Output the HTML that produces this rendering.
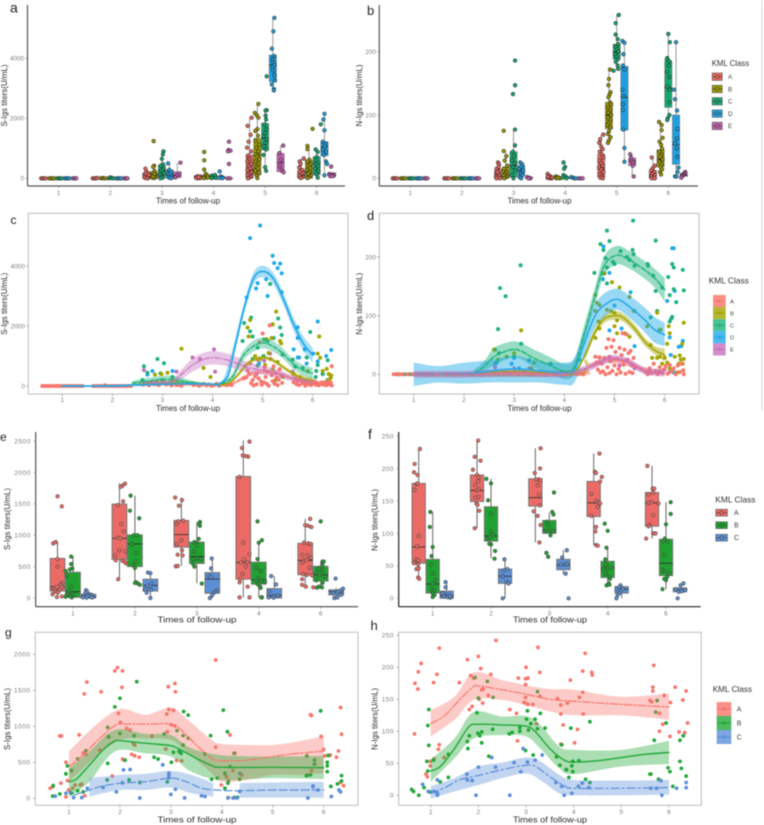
<!DOCTYPE html>
<html>
<head>
<meta charset="utf-8">
<title>KML class antibody titers</title>
<style>
html,body{margin:0;padding:0;background:#fff;}
body{width:764px;height:825px;overflow:hidden;}
svg{display:block;filter:blur(0.45px);}
text{font-family:"Liberation Sans",sans-serif;}
</style>
</head>
<body>
<svg id="figure" width="764" height="825" viewBox="0 0 764 825" xmlns="http://www.w3.org/2000/svg">
<rect width="764" height="825" fill="#fff"/>
<line x1="762" y1="0" x2="762" y2="410" stroke="#d4d4d4" stroke-width="1"/>
</svg>
<script>
// ---------- shared categories ----------
const sixTimes = ['1','2','3','4','5','6'];
const fiveTimes = ['1','2','3','4','6'];
const fiveClasses = ['A','B','C','D','E'];
const threeClasses = ['A','B','C'];
const sTicksAC = [0,2000,4000];
const nTicksBD = [0,100,200];
const sTicksE = [0,500,1000,1500,2000,2500];
const sTicksG = [0,500,1000,1500,2000];
const nTicksFH = [0,50,100,150,200,250];

// ---------- panel a : [low whisker, q1, median, q3, high whisker] per time ----------
const aBoxA = [[0,0,0,0,0],[0,0,0,0,0],[0,0,50,150,330],[0,0,20,80,100],[0,0,280,780,2020],[0,0,100,250,660]];
const aBoxB = [[0,0,0,0,0],[0,0,0,0,10],[0,0,70,210,420],[0,0,20,100,150],[0,110,780,1330,2480],[0,0,200,600,1080]];
const aBoxC = [[0,0,0,0,0],[0,0,0,0,20],[0,50,270,440,900],[0,0,40,100,110],[250,940,1330,1830,2280],[20,110,490,720,950]];
const aBoxD = [[0,0,0,0,0],[0,0,0,0,0],[0,0,100,280,500],[0,0,15,50,60],[2930,3220,3780,4110,5350],[100,750,1050,1220,2150]];
const aBoxE = [[0,0,0,0,0],[0,0,0,0,0],[0,20,100,220,520],[0,0,0,0,0],[190,220,520,830,1090],[60,80,100,190,190]];
const aPointsA = [[.66,0],[.69,0],[.72,0],[.75,0],[1.66,0],[1.69,0],[1.72,0],[1.75,10],[2.68,320],[2.7,220],[2.66,130],[2.72,80],[2.68,20],[2.74,170],[2.7,60],[2.66,30],[2.73,10],[2.69,150],[2.75,100],[2.71,0],[3.66,40],[3.69,70],[3.72,30],[3.75,60],[3.7,10],[3.74,5],[3.67,5],[3.71,45],[4.74,2020],[4.66,1750],[4.72,1450],[4.68,1220],[4.65,1020],[4.73,900],[4.67,760],[4.7,650],[4.66,560],[4.73,480],[4.68,400],[4.71,330],[4.66,270],[4.74,210],[4.69,160],[4.66,110],[4.72,60],[4.69,20],[4.67,0],[5.75,660],[5.67,560],[5.69,480],[5.66,360],[5.72,280],[5.67,220],[5.73,170],[5.69,120],[5.66,80],[5.72,40],[5.69,10]];
const aPointsB = [[.82,0],[.85,0],[.88,0],[.91,0],[1.82,0],[1.85,10],[1.88,0],[1.91,0],[2.84,1240],[2.85,420],[2.83,380],[2.86,240],[2.82,180],[2.87,120],[2.84,80],[2.88,40],[2.81,20],[2.85,10],[2.83,60],[2.86,150],[3.82,880],[3.82,600],[3.82,290],[3.85,150],[3.83,60],[3.88,100],[3.86,20],[3.81,10],[3.89,30],[4.87,2480],[4.8,2180],[4.84,2100],[4.87,2020],[4.85,1640],[4.81,1580],[4.86,1420],[4.82,1250],[4.89,1120],[4.83,1020],[4.87,900],[4.82,800],[4.85,720],[4.89,640],[4.81,560],[4.87,480],[4.83,380],[4.86,320],[4.81,260],[4.88,180],[4.84,90],[4.85,10],[5.92,1650],[5.82,1080],[5.82,970],[5.86,620],[5.82,560],[5.88,480],[5.84,420],[5.87,340],[5.81,280],[5.86,210],[5.83,150],[5.88,90],[5.85,40],[5.82,10]];
const aPointsC = [[.97,0],[1,0],[1.03,0],[1.06,0],[1.97,0],[2,30],[2.03,10],[2.06,0],[3.03,900],[3.02,800],[3,650],[3.02,470],[2.98,420],[3.02,300],[2.99,250],[3.03,180],[2.97,120],[3,60],[3.02,20],[2.97,0],[3.97,90],[4.01,50],[4.03,110],[3.99,20],[4.05,15],[3.96,10],[5.03,2270],[5.01,2260],[5.01,2090],[5.02,1960],[4.99,1800],[5.02,1640],[5.0,1500],[4.97,1400],[5.03,1300],[5.01,1180],[4.98,1060],[5.02,960],[4.97,780],[5,370],[5.02,250],[5.03,3400],[6.08,1800],[5.98,960],[6.02,880],[6,710],[5.97,620],[6.03,520],[5.99,470],[6.02,410],[5.97,320],[6.03,240],[5.99,140],[6.02,20]];
const aPointsD = [[1.12,0],[1.15,0],[1.18,0],[1.21,0],[2.12,0],[2.15,0],[2.18,0],[2.21,0],[3.12,500],[3.14,280],[3.18,220],[3.12,160],[3.16,120],[3.19,60],[3.14,20],[3.18,5],[4.12,230],[4.14,60],[4.18,30],[4.11,15],[4.17,5],[5.18,5350],[5.16,4900],[5.13,4320],[5.17,4080],[5.14,3960],[5.16,3860],[5.18,3780],[5.14,3720],[5.16,3600],[5.18,3440],[5.19,3260],[5.13,3130],[5.17,2980],[5.17,2930],[6.15,2150],[6.13,1960],[6.15,1600],[6.12,1220],[6.17,1140],[6.15,1050],[6.12,960],[6.18,880],[6.14,780],[6.18,560],[6.2,480],[6.15,100]];
const aPointsE = [[1.28,0],[1.31,0],[1.34,0],[2.27,0],[2.3,0],[2.33,0],[3.36,520],[3.3,100],[3.26,30],[3.34,150],[4.3,1220],[4.29,940],[4.33,920],[4.28,900],[4.3,480],[4.27,0],[4.32,0],[5.35,1090],[5.28,840],[5.31,620],[5.29,400],[5.33,250],[5.36,200],[6.28,390],[6.24,140],[6.27,120],[6.3,100],[6.33,90],[6.26,70],[6.31,70]];

// ---------- panel b ----------
const bBoxA = [[0,0,0,0,0],[0,0,0,0,0],[0,0,3,12,25],[0,0,0,2,7],[0,2,15,38,69],[0,0,5,12,33]];
const bBoxB = [[0,0,0,0,0],[0,0,0,0,0],[0,0,5,18,43],[0,0,0,1,3],[56,78,100,120,172],[5,18,30,45,89]];
const bBoxC = [[0,0,0,0,0],[0,0,0,0,0],[0,2,20,42,77],[0,0,1,3,5],[170,188,200,212,258],[92,112,143,185,228]];
const bBoxD = [[0,0,0,0,0],[0,0,0,0,0],[0,5,12,20,25],[0,0,0,1,2],[26,76,128,177,217],[3,22,53,100,215]];
const bBoxE = [[0,0,0,0,0],[0,0,0,0,0],[0,0,1,2,2],[0,0,0,0,0],[3,20,27,32,38],[1,3,5,8,10]];
const bPointsA = [[.66,0],[.69,0],[.72,0],[.75,0],[1.66,0],[1.69,0],[1.72,0],[1.75,0],[2.7,25],[2.72,22],[2.67,15],[2.74,12],[2.68,8],[2.72,5],[2.66,3],[2.7,2],[2.67,0],[2.74,0],[2.71,18],[2.69,10],[3.66,7],[3.69,4],[3.72,3],[3.66,1],[3.7,0],[3.74,0],[3.67,2],[3.75,1],[4.74,69],[4.68,62],[4.66,56],[4.7,50],[4.73,46],[4.67,42],[4.71,38],[4.74,33],[4.67,28],[4.7,24],[4.73,20],[4.66,17],[4.7,14],[4.74,10],[4.67,6],[4.72,3],[4.68,1],[4.73,0],[5.68,33],[5.74,20],[5.7,16],[5.67,13],[5.73,10],[5.69,7],[5.74,5],[5.67,3],[5.71,2],[5.68,0],[5.74,0]];
const bPointsB = [[.82,0],[.85,0],[.88,0],[.91,0],[1.82,0],[1.85,0],[1.88,0],[1.91,0],[2.81,75],[2.81,43],[2.86,35],[2.83,28],[2.88,20],[2.82,15],[2.87,10],[2.84,7],[2.81,5],[2.87,3],[2.84,1],[2.82,0],[3.82,3],[3.85,2],[3.88,1],[3.83,0],[3.9,0],[3.87,1],[4.87,172],[4.85,157],[4.84,147],[4.88,136],[4.86,132],[4.84,128],[4.87,120],[4.89,117],[4.83,112],[4.87,108],[4.84,104],[4.89,100],[4.83,96],[4.87,92],[4.85,88],[4.82,84],[4.88,80],[4.85,74],[4.83,70],[4.88,65],[4.85,60],[4.83,56],[5.82,89],[5.87,84],[5.87,76],[5.89,64],[5.83,58],[5.86,53],[5.88,47],[5.82,42],[5.87,38],[5.84,34],[5.89,30],[5.83,26],[5.87,22],[5.85,18],[5.88,14],[5.84,10],[5.86,6]];
const bPointsC = [[.97,0],[1,0],[1.03,0],[1.06,0],[1.97,0],[2,0],[2.03,0],[2.06,0],[3.03,186],[3.03,147],[2.99,133],[3.03,77],[3.03,52],[2.99,42],[3.01,35],[2.97,28],[3.02,24],[2.99,18],[3.03,12],[2.97,5],[3,0],[3.97,25],[4,18],[3.98,15],[3.97,5],[4.01,3],[3.96,1],[4.03,0],[5.04,258],[4.98,245],[4.98,227],[5.02,220],[5.03,212],[4.98,208],[5.01,204],[5.03,200],[4.97,196],[5,192],[5.02,188],[4.98,184],[5.02,178],[5.03,173],[4.94,170],[6,228],[6.03,215],[5.98,190],[5.97,188],[6.02,185],[6.01,178],[5.98,168],[6.02,160],[5.98,145],[6.02,140],[6.02,120],[6.02,100],[5.99,95],[5.98,92]];
const bPointsD = [[1.12,0],[1.15,0],[1.18,0],[1.21,0],[2.12,0],[2.15,0],[2.18,0],[2.21,0],[3.13,25],[3.17,22],[3.15,18],[3.11,15],[3.18,12],[3.14,8],[3.17,5],[3.12,2],[3.15,0],[4.12,2],[4.15,1],[4.18,0],[4.21,0],[5.11,217],[5.15,214],[5.13,196],[5.12,178],[5.15,172],[5.11,140],[5.14,130],[5.12,117],[5.12,108],[5.13,77],[5.15,48],[5.15,26],[6.15,215],[6.11,140],[6.13,125],[6.17,107],[6.18,78],[6.17,63],[6.13,55],[6.17,47],[6.18,34],[6.2,17],[6.18,10],[6.13,3],[6.16,3]];
const bPointsE = [[1.27,0],[1.3,0],[1.33,0],[2.27,0],[2.3,0],[2.33,0],[3.26,2],[3.3,1],[3.33,0],[3.29,0],[4.27,0],[4.3,0],[4.34,0],[5.26,38],[5.28,32],[5.3,28],[5.32,25],[5.31,20],[5.33,3],[6.33,10],[6.31,8],[6.29,6],[6.27,5],[6.26,3],[6.25,1]];

// ---------- panel c : scatter [time, titer], fit [time, value], band [time, lower, upper] ----------
const cPointsA = [[.6,0],[.65,0],[.7,0],[.75,0],[.8,0],[.85,0],[.9,0],[.95,0],[1,0],[1.05,0],[1.1,0],[1.15,0],[1.2,0],[1.25,0],[1.3,0],[1.35,0],[1.4,0],[1.62,0],[1.67,0],[1.72,0],[1.77,0],[1.82,0],[1.87,0],[1.92,0],[1.97,0],[2.02,0],[2.07,0],[2.12,0],[2.17,0],[2.22,0],[2.27,0],[2.32,0],[2.37,0],[2.62,40],[2.68,80],[2.73,20],[2.78,120],[2.83,60],[2.88,150],[2.93,30],[2.98,90],[3.03,130],[3.08,50],[3.13,110],[3.18,20],[3.23,70],[3.28,30],[3.33,40],[3.38,10],[3.62,30],[3.68,60],[3.73,10],[3.78,40],[3.83,70],[3.88,20],[3.93,50],[3.98,5],[4.03,30],[4.08,70],[4.13,10],[4.18,40],[4.23,60],[4.28,20],[4.33,50],[4.38,30],[4.62,260],[4.67,280],[4.7,520],[4.73,400],[4.75,750],[4.77,90],[4.8,200],[4.82,20],[4.85,320],[4.88,60],[4.9,880],[4.92,250],[4.94,1460],[4.97,150],[4.98,40],[5,1750],[5.02,120],[5.04,620],[5.06,300],[5.08,80],[5.1,480],[5.12,10],[5.14,2020],[5.16,900],[5.18,360],[5.2,160],[5.22,660],[5.24,70],[5.26,430],[5.28,270],[5.3,30],[5.32,210],[5.34,560],[5.37,350],[5.39,100],[5.62,120],[5.65,250],[5.68,60],[5.7,170],[5.73,30],[5.76,200],[5.79,90],[5.82,150],[5.85,10],[5.88,110],[5.91,60],[5.94,130],[5.97,30],[6,90],[6.03,160],[6.06,40],[6.09,110],[6.12,20],[6.15,70],[6.18,120],[6.21,50],[6.24,90],[6.27,20],[6.3,150],[6.33,60],[6.36,110],[6.38,660],[6.38,20]];
const cPointsB = [[3.38,1240],[3.82,600],[3.96,300],[2.98,400],[2.85,380],[3.1,440],[3.2,200],[2.7,100],[2.9,60],[4.7,1950],[4.72,1650],[4.75,2200],[5.27,2480],[5.2,2050],[5.08,1560],[5.18,1600],[5.35,1500],[5.37,1420],[5.12,1100],[4.85,1000],[4.95,900],[5.3,800],[5.05,700],[5.2,560],[5.4,300],[5.26,200],[5.62,400],[5.9,500],[6.13,1650],[6.1,1080],[6.15,940],[6.2,500],[6.28,570],[6.32,400],[6.37,350],[6.36,280],[6.33,200],[6.25,130],[6.2,50],[6,150],[5.75,300],[5.85,80]];
const cPointsC = [[1.85,20],[2.63,660],[2.7,440],[2.9,900],[3.03,760],[2.96,420],[3,200],[2.6,200],[3.2,300],[3.3,100],[3.6,90],[4.3,50],[4.63,2100],[4.77,2280],[4.75,1820],[4.8,1650],[4.6,1500],[4.9,1280],[5.03,1550],[5.2,2060],[5.15,3400],[5.31,2250],[5.35,1950],[5.38,1700],[5.22,1600],[5.1,1500],[5.02,1000],[5.4,1050],[4.8,900],[4.9,680],[5.6,880],[5.65,650],[5.8,600],[5.95,1800],[5.88,950],[6.07,500],[6.06,300],[6.1,700],[6.3,860],[6.2,400],[6.3,200],[6.05,100]];
const cPointsD = [[4.75,4930],[4.95,5350],[5.2,4340],[5.23,4100],[5.3,3930],[5.35,4080],[5.38,3760],[5.07,3560],[4.9,3430],[4.87,3250],[4.68,2950],[5.38,3130],[5.1,3000],[5.7,1960],[5.7,1600],[5.62,1220],[5.73,950],[5.84,1220],[5.88,750],[6.01,1080],[6.1,820],[6.1,2150],[6.27,1000],[6.37,1200],[5.7,950],[2.8,500],[3.2,500],[2.7,380],[4.93,760]];
const cPointsE = [[2.63,530],[3.28,480],[3.6,950],[3.75,900],[4.03,1220],[4.05,480],[4.65,660],[5.03,840],[5.15,1080],[4.88,400],[5.6,480],[6.2,400],[6.3,180]];
const cFitA = [[1,0],[2,0],[3,50],[4,30],[4.4,100],[4.6,255],[4.8,420],[5,480],[5.3,420],[5.6,255],[6,145]];
const cFitB = [[1,0],[2,0],[2.4,40],[3,100],[3.5,100],[4,60],[4.3,80],[4.5,360],[4.7,755],[4.9,920],[5.05,940],[5.2,866],[5.4,640],[5.6,420],[5.8,255],[6,180]];
const cFitC = [[2.4,100],[2.6,145],[3,220],[3.3,200],[3.6,100],[4,60],[4.2,100],[4.4,310],[4.6,980],[4.8,1310],[5,1440],[5.2,1330],[5.4,1090],[5.6,755],[5.8,530],[6,420]];
const cFitD = [[1,0],[2,0],[2.4,30],[3,60],[3.5,80],[4,60],[4.1,50],[4.3,310],[4.42,1090],[4.62,2530],[4.82,3590],[5.01,3820],[5.21,3590],[5.41,2920],[5.61,2090],[5.81,1420],[6,1030]];
const cFitE = [[2.6,100],[3,110],[3.2,150],[3.4,420],[3.6,700],[3.85,900],[4.05,940],[4.3,866],[4.5,750],[4.7,620],[5,530],[5.3,420],[5.6,255],[6,145]];
const cBandA = [[3,10,90],[4,10,50],[4.4,40,160],[4.6,180,330],[4.8,340,500],[5,400,560],[5.3,340,500],[5.6,180,330],[6,70,220]];
const cBandB = [[2.4,10,100],[3,40,170],[3.5,40,170],[4,30,90],[4.3,40,130],[4.5,290,430],[4.7,680,830],[4.9,850,990],[5.05,870,1010],[5.2,790,940],[5.4,570,710],[5.6,340,500],[5.8,170,340],[6,80,280]];
const cBandC = [[2.4,40,170],[2.7,60,270],[3,100,340],[3.3,80,320],[3.6,30,170],[4,30,90],[4.2,50,160],[4.4,200,420],[4.6,820,1140],[4.8,1130,1490],[5,1260,1620],[5.2,1150,1510],[5.4,920,1260],[5.6,590,920],[5.8,350,710],[6,230,610]];
const cBandD = [[1,-20,20],[2,-20,40],[3,20,110],[3.5,40,130],[4,20,90],[4.2,30,180],[4.4,850,1250],[4.62,2350,2700],[4.82,3400,3780],[5.01,3620,4010],[5.21,3400,3780],[5.41,2720,3120],[5.61,1880,2300],[5.81,1180,1660],[6,780,1280]];
const cBandE = [[2.6,40,160],[3,50,170],[3.2,80,230],[3.4,260,580],[3.6,480,920],[3.85,680,1120],[4.05,720,1160],[4.3,650,1080],[4.5,540,960],[4.7,440,800],[5,380,680],[5.3,280,560],[5.6,150,360],[6,50,240]];

// ---------- panel d ----------
const dPointsA = [[.6,0],[.65,0],[.72,0],[.78,0],[.88,0],[.98,0],[1.05,0],[1.1,0],[1.15,0],[1.2,0],[1.25,0],[1.3,0],[1.35,0],[1.4,0],[1.62,0],[1.67,0],[1.72,0],[1.77,0],[1.82,0],[1.87,0],[1.92,0],[1.97,0],[2.02,0],[2.07,0],[2.12,0],[2.17,0],[2.22,0],[2.27,0],[2.32,0],[2.37,0],[2.62,2],[2.7,1],[2.8,3],[2.9,0],[3,2],[3.1,0],[3.2,3],[3.3,1],[3.38,0],[3.62,0],[3.7,1],[3.78,0],[3.86,2],[3.94,0],[4.02,1],[4.1,0],[4.18,2],[4.26,0],[4.32,1],[4.38,0],[4.62,30],[4.65,20],[4.67,8],[4.7,29],[4.72,3],[4.75,18],[4.77,5],[4.8,28],[4.82,0],[4.84,45],[4.86,12],[4.88,60],[4.9,2],[4.92,22],[4.94,47],[4.96,6],[4.98,58],[5,15],[5.02,38],[5.04,0],[5.06,26],[5.08,9],[5.1,45],[5.12,3],[5.14,33],[5.16,70],[5.18,16],[5.2,42],[5.22,1],[5.24,68],[5.26,25],[5.28,36],[5.3,4],[5.32,40],[5.34,15],[5.36,2],[5.38,28],[5.62,4],[5.66,0],[5.7,10],[5.74,2],[5.78,18],[5.82,6],[5.86,0],[5.9,12],[5.94,3],[5.98,8],[6.02,14],[6.06,1],[6.1,16],[6.14,5],[6.18,10],[6.22,0],[6.26,15],[6.3,4],[6.34,18],[6.37,7],[6.38,0]];
const dPointsB = [[3.14,75],[2.6,42],[2.85,30],[3,36],[2.68,25],[3.4,20],[3.35,10],[4.62,135],[4.65,122],[4.7,118],[4.62,108],[4.68,90],[4.7,78],[4.62,62],[4.8,172],[4.95,157],[5.1,148],[5.3,132],[4.85,110],[4.93,108],[5.05,92],[5,82],[5.2,70],[5.3,64],[5.05,70],[5.38,108],[5,105],[5.85,105],[5.92,76],[5.65,82],[6.08,82],[6.1,70],[6.38,88],[5.72,50],[5.75,28],[5.85,28],[5.9,30],[6,28],[6.05,52],[6.2,30],[6.3,32],[6.32,25],[6.38,26],[6.35,52],[6.36,18],[6.28,18],[6.25,3],[6.1,10],[5.7,8],[5.95,18],[6.05,20]];
const dPointsC = [[.66,0],[.7,0],[.82,0],[.93,0],[2.72,147],[2.83,133],[3.13,186],[2.68,77],[2.62,42],[3.14,52],[3.73,18],[2.7,36],[3,30],[4.3,25],[4.6,173],[4.72,222],[4.85,245],[4.9,227],[4.78,212],[4.82,198],[4.85,182],[4.78,172],[4.97,192],[5,188],[5.12,210],[5.25,200],[5.3,195],[5.36,212],[5.37,262],[5.38,205],[5.4,185],[5.66,188],[5.67,185],[5.82,228],[5.77,168],[5.82,142],[5.95,148],[6.07,166],[6.15,188],[6.18,182],[6.18,145],[6.1,135],[6.23,123],[6.36,178],[6.38,143],[6.1,90],[6.13,95],[6.15,98],[5.9,76],[5.72,97],[5.85,108],[4.85,155]];
const dPointsD = [[4.78,218],[4.8,172],[4.77,162],[4.9,173],[4.9,75],[5.14,78],[5,117],[5.32,140],[5.4,108],[5.4,48],[6.15,215],[6.18,215],[6.2,142],[6.05,125],[6.1,63],[6.12,33],[6.28,47],[6.33,48],[6.36,57],[6.18,3],[2.65,20],[3,28],[3.3,24],[2.95,18],[3.1,10]];
const dPointsE = [[2.62,18],[2.62,12],[3.3,10],[3,10],[3.2,6],[4.7,20],[4.9,30],[5.1,15],[5.4,10],[5.9,5],[6,8],[6.1,4]];
const dFitA = [[1,0],[2,0],[3,1],[4.2,0],[4.5,13],[4.8,24],[5.05,24],[5.3,19],[5.6,7],[5.8,3],[6,2]];
const dFitB = [[1,0],[2,0],[3,5],[4,1],[4.2,3],[4.4,30],[4.6,70],[4.8,95],[5.05,100],[5.2,95],[5.4,78],[5.6,56],[5.8,41],[6,33]];
const dFitC = [[2.2,1],[2.4,13],[2.6,30],[2.9,41],[3.1,41],[3.4,27],[3.7,16],[4,5],[4.2,13],[4.4,70],[4.6,130],[4.8,186],[5.05,203],[5.3,195],[5.6,178],[5.8,164],[6,144]];
const dFitD = [[1,0],[2,1],[3,9],[4,2],[4.2,7],[4.4,53],[4.6,98],[4.8,118],[5.05,128],[5.3,115],[5.6,93],[5.8,76],[6,67]];
const dFitE = [[1,0],[2,0],[3,3],[4,1],[4.5,12],[4.8,24],[5.05,27],[5.3,20],[5.6,6],[6,2]];
const dBandA = [[1,-2,2],[4.2,-3,3],[4.5,8,18],[4.8,18,30],[5.05,18,30],[5.3,13,25],[5.6,2,12],[6,-2,6]];
const dBandB = [[1,-4,4],[4.2,-2,8],[4.4,24,36],[4.6,63,77],[4.8,88,102],[5.05,93,107],[5.2,88,102],[5.4,71,85],[5.6,49,63],[5.8,34,48],[6,22,44]];
const dBandC = [[2.2,-2,8],[2.4,5,22],[2.6,15,45],[2.9,27,55],[3.1,27,55],[3.4,12,42],[3.7,2,30],[4,-8,18],[4.2,0,26],[4.4,55,85],[4.6,115,145],[4.8,170,202],[5.05,187,219],[5.3,180,210],[5.6,163,193],[5.8,148,180],[6,124,164]];
const dBandD = [[1,-20,20],[1.5,-14,14],[2,-16,20],[2.5,-14,24],[3,-14,32],[3.5,-14,22],[4,-18,20],[4.2,-14,28],[4.4,32,74],[4.6,78,118],[4.8,98,138],[5.05,110,146],[5.3,96,134],[5.6,72,114],[5.8,54,98],[6,48,88]];
const dBandE = [[1,-6,6],[2,-6,6],[3,-4,10],[4,-5,6],[4.5,6,18],[4.8,18,30],[5.05,21,33],[5.3,14,26],[5.6,0,12],[6,-4,8]];

// ---------- panel e ----------
const eBoxA = [[40,110,180,630,900],[300,615,950,1495,1830],[510,810,1010,1235,1600],[10,300,565,1935,2510],[180,370,600,870,1260]];
const eBoxB = [[10,10,100,410,660],[210,500,860,1005,1630],[235,550,660,890,1210],[10,220,290,570,900],[160,270,370,505,580]];
const eBoxC = [[0,0,20,60,130],[0,110,200,300,405],[0,75,300,405,630],[0,0,40,150,350],[0,50,100,130,160]];
const ePointsA = [[.75,1620],[.82,1460],[.68,870],[.72,890],[.75,620],[.75,500],[.82,235],[.8,205],[.77,180],[.73,170],[.68,155],[.7,130],[.82,170],[.67,60],[.74,15],[.82,25],[.72,100],[.78,130],[.76,90],[1.73,300],[1.84,1820],[1.8,1790],[1.77,1770],[1.72,1480],[1.81,1540],[1.78,1180],[1.82,1060],[1.72,960],[1.76,950],[1.68,680],[1.75,760],[1.85,740],[1.69,600],[1.8,590],[1.86,550],[1.84,570],[2.65,1600],[2.76,1560],[2.71,1470],[2.67,1180],[2.7,1220],[2.78,1230],[2.68,860],[2.75,920],[2.76,760],[2.69,690],[2.77,680],[2.66,505],[2.69,510],[3.85,2490],[3.73,2390],[3.74,2270],[3.83,2250],[3.79,2260],[3.69,1930],[3.75,880],[3.85,700],[3.76,620],[3.71,560],[3.82,570],[3.79,500],[3.74,380],[3.7,300],[3.69,250],[3.82,180],[3.69,10],[3.85,10],[4.83,1260],[4.75,1160],[4.8,1150],[4.85,1130],[4.73,880],[4.8,870],[4.84,860],[4.7,690],[4.79,680],[4.73,600],[4.77,600],[4.84,640],[4.7,560],[4.82,480],[4.72,380],[4.78,370],[4.86,360],[4.7,300],[4.7,210],[4.76,180],[4.88,170]];
const ePointsB = [[.97,660],[.97,540],[.99,470],[.95,455],[.88,430],[.9,350],[.97,180],[.93,100],[.99,70],[.9,60],[1.02,55],[.95,30],[.88,20],[.98,10],[1.93,1630],[1.92,1390],[2.07,1270],[1.98,1000],[2.04,1000],[1.95,860],[2.02,720],[2.01,580],[1.97,520],[2,480],[2.02,250],[2.05,230],[2.08,210],[2,240],[3.05,1210],[3.04,1180],[3.05,1150],[3.03,940],[2.96,890],[3,870],[3,840],[2.95,740],[3,630],[2.94,620],[3.06,620],[2.94,540],[2.96,500],[3.08,230],[3.98,1220],[4.05,920],[4,880],[3.98,620],[3.96,480],[4.03,430],[4,320],[3.96,280],[4.04,270],[4.1,260],[3.98,220],[4.02,180],[4.03,160],[4.05,10],[4.04,10],[5,1220],[5.03,580],[5.05,580],[5.03,520],[4.97,470],[5.02,440],[4.93,400],[4.98,360],[5.07,340],[4.93,280],[5.03,240],[4.97,180],[4.94,165],[5.02,170]];
const ePointsC = [[1.21,125],[1.2,80],[1.26,60],[1.3,50],[1.19,30],[1.24,40],[1.28,20],[1.16,10],[1.22,5],[1.31,10],[2.21,405],[2.25,395],[2.27,230],[2.24,190],[2.2,200],[2.17,130],[2.26,130],[2.19,85],[2.25,0],[3.24,630],[3.23,470],[3.2,350],[3.23,330],[3.32,120],[3.3,100],[3.27,80],[3.25,50],[3.21,0],[4.2,350],[4.28,215],[4.18,100],[4.25,30],[4.31,40],[4.16,10],[4.24,5],[5.24,310],[5.36,150],[5.32,120],[5.28,100],[5.2,80],[5.33,50],[5.22,0],[5.27,10]];

// ---------- panel f ----------
const fBoxA = [[28,54,79,177,230],[108,149,166,190,243],[86,142,155,184,231],[82,126,147,180,223],[92,111,147,163,204]];
const fBoxB = [[0,8,22,60,133],[62,88,96,141,184],[95,100,105,120,132],[20,32,47,57,79],[14,35,54,91,148]];
const fBoxC = [[0,0,4,11,25],[0,23,34,45,60],[37,44,51,60,74],[0,8,14,18,21],[8,10,13,16,23]];
const fPointsA = [[.78,230],[.69,207],[.68,194],[.74,190],[.72,176],[.74,177],[.69,167],[.76,96],[.73,80],[.72,60],[.76,58],[.7,55],[.68,54],[.75,52],[.72,45],[.76,46],[.75,32],[.77,30],[1.78,243],[1.72,218],[1.82,212],[1.69,198],[1.76,190],[1.79,186],[1.78,180],[1.73,175],[1.76,166],[1.79,168],[1.78,156],[1.73,155],[1.75,146],[1.77,144],[1.8,135],[1.72,108],[2.85,231],[2.75,193],[2.84,200],[2.82,183],[2.77,183],[2.85,182],[2.8,174],[2.82,160],[2.73,134],[2.8,127],[2.85,113],[2.83,86],[2.84,143],[3.86,223],[3.78,195],[3.8,193],[3.9,187],[3.87,180],[3.72,161],[3.8,150],[3.84,148],[3.87,146],[3.83,141],[3.72,127],[3.8,110],[3.79,103],[3.8,82],[3.83,81],[4.68,204],[4.77,169],[4.8,169],[4.7,160],[4.78,163],[4.7,147],[4.75,148],[4.87,146],[4.78,128],[4.72,113],[4.7,111],[4.78,100],[4.82,100],[4.66,92]];
const fPointsB = [[.96,133],[.95,110],[1,79],[.98,65],[.97,52],[1,38],[1.05,28],[1,22],[.98,14],[1.02,12],[1,8],[1.03,5],[1,2],[1.92,184],[2,177],[1.95,151],[2,130],[2,103],[2.03,98],[1.95,92],[1.98,94],[2,83],[1.97,84],[2.07,73],[2.06,61],[3.08,163],[3.05,133],[3.07,129],[2.96,118],[2.98,113],[3.02,105],[2.95,104],[3.06,103],[3.02,97],[2.95,70],[2.98,64],[3.95,115],[4,104],[3.98,78],[3.96,60],[3.97,52],[4.05,47],[4,46],[3.92,45],[3.97,38],[4.03,33],[4.04,30],[4.02,23],[3.98,20],[4.03,21],[5.08,148],[5.08,130],[5,114],[4.98,92],[4.96,88],[5.03,88],[4.97,67],[4.95,43],[4.98,42],[5.06,38],[4.97,30],[5,28],[4.94,14],[5.02,33]];
const fPointsC = [[1.22,25],[1.22,17],[1.2,6],[1.19,4],[1.25,2],[1.28,5],[1.3,1],[1.17,8],[1.3,3],[2.23,60],[2.28,45],[2.22,43],[2.2,34],[2.27,25],[2.3,23],[2.2,0],[3.3,74],[3.22,63],[3.27,52],[3.3,53],[3.2,52],[3.28,38],[3.33,0],[4.22,20],[4.2,17],[4.26,14],[4.15,14],[4.2,8],[4.17,5],[4.15,0],[5.2,0],[5.3,23],[5.25,20],[5.17,14],[5.22,10],[5.3,12],[5.33,13],[5.27,11]];

// ---------- panel g ----------
const gPointsA = [[.63,140],[.68,160],[.84,210],[.82,866],[.85,866],[.94,500],[.97,245],[.99,115],[.94,20],[1.07,140],[1.12,185],[1.2,880],[1.3,1450],[1.35,1615],[1.63,1480],[1.9,1770],[1.95,1815],[2.05,1770],[2.04,1540],[1.97,1180],[2.01,1055],[1.6,670],[1.28,625],[1.33,610],[2.23,610],[2.29,590],[2.38,570],[2.05,545],[2.08,530],[1.22,185],[1.25,195],[1.31,35],[1.85,310],[1.77,850],[2.13,970],[2.2,950],[2.63,865],[2.26,765],[2.29,740],[2.95,1550],[3.08,1595],[3.09,1480],[2.96,1235],[3.05,1220],[2.92,1170],[3.01,1020],[3.08,1005],[2.93,925],[2.9,685],[3.11,525],[3.21,520],[3.88,1920],[3.88,710],[4.16,880],[4.26,625],[3.99,185],[4.09,300],[4.22,385],[4.13,10],[4.39,325],[5.74,1160],[5.76,1150],[5.95,860],[6,680],[6.02,590],[6.13,600],[6.25,570],[6.29,657],[6.33,1260],[6.35,890],[6.33,220],[6.39,175],[5.69,325],[5.76,385]];
const gPointsB = [[.68,30],[.69,175],[.82,60],[.94,340],[.97,450],[1.05,385],[1.05,70],[1.17,105],[1.17,545],[1.28,90],[1.33,660],[1.76,485],[1.75,255],[1.78,855],[1.76,985],[1.9,1270],[2,1390],[2,900],[2.33,1620],[2.1,530],[2.18,255],[2.39,220],[2.28,870],[2.67,570],[2.75,545],[2.87,895],[2.93,230],[3.01,500],[3.05,640],[3.16,650],[3.2,625],[3.12,940],[3.25,1205],[3.34,1155],[3.24,870],[3.34,835],[3.24,740],[3.78,870],[3.67,615],[3.8,265],[3.91,280],[4.03,1225],[4.11,925],[4.06,345],[4.06,140],[4.16,440],[4.13,240],[4.12,210],[4.24,625],[4.25,10],[4.31,15],[4.35,265],[5.94,1215],[5.67,590],[5.82,530],[5.82,475],[5.66,315],[5.74,325],[6.09,595],[6.07,500],[6.07,450],[6.07,370],[6.14,165],[6.27,200],[6.35,315],[6.35,240]];
const gPointsC = [[.73,30],[.94,70],[1.03,80],[1.09,10],[1.25,10],[1.36,140],[1.67,150],[1.93,90],[2.07,395],[2.2,400],[2.05,215],[2.39,5],[2.84,465],[2.96,350],[2.96,325],[2.96,285],[3,55],[3.09,125],[3.27,5],[3.6,35],[3.67,25],[4.12,5],[4.22,5],[4.3,5],[4.35,95],[4.35,345],[5.69,5],[5.79,160],[5.79,170],[5.89,115],[6.15,25],[6.3,115],[6.33,90]];
const gFitA = [[1,440],[1.28,600],[1.6,830],[1.87,995],[2,1030],[2.5,1030],[3,1030],[3.2,950],[3.5,740],[3.8,555],[4,520],[4.5,530],[5,580],[5.5,625],[6,655]];
const gFitB = [[1,230],[1.15,270],[1.4,460],[1.7,695],[1.9,795],[2,800],[2.5,765],[3,730],[3.2,670],[3.5,555],[3.8,455],[4,430],[5,430],[6,425]];
const gFitC = [[1.1,45],[1.4,115],[1.6,160],[2,210],[2.5,230],[3,280],[3.3,230],[3.6,140],[3.9,115],[4.3,105],[5,115],[6,115]];
const gBandA = [[1,230,650],[1.5,560,1000],[2,810,1240],[2.5,830,1160],[3,810,1260],[3.3,650,1110],[3.8,350,810],[4,230,755],[4.5,255,740],[5,325,740],[5.5,325,790],[6,350,865]];
const gBandB = [[1,15,415],[1.4,230,650],[1.9,650,950],[2.5,625,895],[3,580,880],[3.4,370,695],[4,255,600],[5,280,580],[6,265,590]];
const gBandC1 = [[1.4,25,280],[2,115,325],[2.5,115,340],[3,150,380],[3.4,70,325],[3.83,25,210]];
const gBandC2 = [[4.35,10,210],[5,10,220],[6,10,230]];

// ---------- panel h ----------
const hPointsA = [[.66,96],[.67,175],[.73,166],[.74,193],[.8,206],[1.06,176],[1.13,189],[1.18,230],[1.18,79],[1.16,72],[1.07,57],[.99,53],[.99,46],[.9,33],[.93,29],[1.28,59],[1.6,176],[1.77,212],[1.84,187],[1.9,183],[2,217],[2.05,198],[2.26,189],[2.07,165],[2.1,166],[2.09,144],[1.81,134],[1.87,139],[2.02,150],[2.37,242],[2.21,156],[2.66,134],[2.8,128],[2.84,183],[3,200],[3.25,231],[3.29,192],[2.99,182],[3.04,183],[2.99,173],[2.99,153],[2.96,145],[2.99,144],[3.04,142],[3.14,142],[3.29,155],[2.82,85],[3.22,112],[3.66,151],[3.73,141],[3.73,127],[3.78,110],[3.87,144],[3.93,180],[4.12,153],[4.19,161],[4.19,194],[4.24,222],[4.38,192],[4.39,188],[4.2,127],[4.08,103],[4.02,82],[3.73,80],[5.68,203],[5.66,169],[5.66,163],[5.6,148],[5.64,146],[5.9,156],[5.8,128],[5.8,100],[5.87,111],[6.02,92],[6.03,145],[6.13,169],[6.29,149],[6.36,163],[6.21,99],[6.33,98],[6.39,113]];
const hPointsB = [[.6,9],[.64,6],[.75,0],[.86,12],[.96,134],[.94,109],[.96,78],[.92,53],[.94,38],[.99,5],[1.06,55],[1.2,21],[1.37,28],[1.37,64],[1.77,84],[1.78,73],[1.81,93],[1.97,129],[1.93,184],[2,152],[1.99,97],[2.03,93],[2.07,99],[2.07,82],[2.19,178],[2.31,153],[2.22,61],[2.3,103],[2.65,96],[2.71,98],[2.87,106],[2.87,100],[3.03,132],[3.01,119],[2.99,70],[3.15,63],[3.1,112],[3.19,119],[3.05,102],[3.24,162],[3.24,104],[3.3,128],[3.4,105],[3.64,60],[3.71,47],[3.75,79],[3.84,40],[3.85,40],[3.9,28],[3.94,105],[3.96,46],[3.98,37],[3.98,53],[4.11,54],[4.25,25],[4.34,115],[4.34,20],[5.6,33],[5.62,33],[5.69,86],[5.72,130],[5.75,148],[5.78,25],[5.94,113],[5.98,43],[6.02,37],[6.08,14],[6.23,53],[6.23,86],[6.26,42],[6.3,93],[6.36,30]];
const hPointsC = [[.83,17],[.95,6],[1.07,6],[1.14,24],[1.14,3],[1.14,0],[1.76,33],[1.77,24],[1.87,23],[1.95,0],[2,44],[2.28,59],[2.36,44],[2.66,0],[2.75,51],[2.89,37],[2.94,73],[3.03,52],[3.19,55],[3.34,63],[3.63,20],[3.75,14],[3.8,0],[3.96,3],[4.1,14],[4.18,19],[4.32,12],[5.62,11],[5.74,11],[5.83,23],[5.85,0],[6.16,11],[6.36,20],[6.36,12]];
const hFitA = [[1,112],[1.3,125],[1.6,149],[1.9,170],[2,171],[2.5,165],[3,158],[3.5,150],[4,147],[5,142],[6,138]];
const hFitB = [[1,38],[1.2,45],[1.5,73],[1.8,107],[2,111],[2.5,110],[3,108],[3.2,99],[3.5,73],[3.8,55],[4,52],[4.5,54],[5,59],[5.5,64],[6,67]];
const hFitC = [[1,3],[1.3,12],[1.6,24],[2,31],[2.5,40],[3,47],[3.2,45],[3.5,29],[3.8,15],[4,11],[5,11],[6,12]];
const hBandA = [[1,92,133],[1.5,118,154],[1.9,149,192],[2.5,149,180],[3,141,172],[3.5,131,166],[4,125,165],[5,125,154],[6,118,159]];
const hBandB = [[1,21,56],[1.5,58,89],[1.9,89,130],[2.5,94,123],[3,92,124],[3.3,73,110],[3.7,42,76],[4,33,71],[5,45,71],[6,49,85]];
const hBandC = [[1,-5,14],[1.5,6,27],[2,16,45],[2.5,27,51],[3,34,59],[3.3,24,53],[3.7,3,32],[4,0,24],[5,0,23],[6,1,24]];

// ---------- colours ----------
const boxColors = ['#e8675f','#9c9800','#17a86f','#1f9fe0','#c25fb0'];
const smoothColors = ['#f8766d','#a3a500','#1fb27c','#21a9ea','#c670bd'];
const threeBoxColors = ['#ec6a65','#1fa22f','#5b8fd5'];
const threeSmoothColors = ['#f8766d','#22a838','#5b8fd9'];

// ---------- drawing helpers ----------
const NS = 'http://www.w3.org/2000/svg';
const figure = document.getElementById('figure');
function make(parent, tag, attrs, content) {
  const node = document.createElementNS(NS, tag);
  for (const k in attrs) node.setAttribute(k, attrs[k]);
  if (content !== undefined) node.textContent = content;
  parent.appendChild(node);
  return node;
}
function linear(d0, d1, r0, r1) {
  return v => r0 + (v - d0) * (r1 - r0) / (d1 - d0);
}
function panelGroup(name) {
  const g = make(figure, 'g', {});
  
  
  return g;
}
function drawAxes(g, x, y, box, xValues, xLabels, yValues, st) {
  if (st.frame) {
    const frame = make(g, 'rect', {x: box.l, y: box.t, width: box.r - box.l, height: box.b - box.t, fill: 'none', stroke: '#bdbdbd', 'stroke-width': 1});
    
    
  } else {
    const yAxis = make(g, 'line', {x1: box.l, y1: box.t, x2: box.l, y2: box.b, stroke: st.axis, 'stroke-width': st.axisWidth});
    
    
    const xAxis = make(g, 'line', {x1: box.l, y1: box.b, x2: box.r, y2: box.b, stroke: st.axis, 'stroke-width': st.axisWidth});
    
    
  }
  xValues.forEach((v, i) => {
    const tick = make(g, 'line', {x1: x(v), y1: box.b, x2: x(v), y2: box.b + 2, stroke: '#777', 'stroke-width': 0.6});
    
    
    const label = make(g, 'text', {x: x(v), y: box.b + st.xTickGap, 'text-anchor': 'middle', 'font-size': st.tickSize, fill: '#808080'}, xLabels[i]);
    
    
  });
  yValues.forEach(v => {
    const tick = make(g, 'line', {x1: box.l - 2, y1: y(v), x2: box.l, y2: y(v), stroke: '#777', 'stroke-width': 0.6});
    
    
    const label = make(g, 'text', {x: box.l - st.yTickGap, y: y(v) + st.tickSize * 0.36, 'text-anchor': 'end', 'font-size': st.tickSize, fill: '#808080', 'letter-spacing': st.tickSpacing || 0}, String(v));
    
    
  });
  const xt = make(g, 'text', {x: st.xTitleX, y: st.xTitleY, 'text-anchor': 'middle', 'font-size': st.titleSize, fill: '#2a2a2a', textLength: st.xTitleLen, lengthAdjust: 'spacingAndGlyphs'}, 'Times of follow-up');
  
  
  const yt = make(g, 'text', {transform: 'translate(' + st.yTitleX + ',' + st.yTitleY + ') rotate(-90)', 'text-anchor': 'middle', 'font-size': st.titleSize, fill: '#2a2a2a', textLength: 62, lengthAdjust: 'spacingAndGlyphs'}, st.yTitle);
  
  
}
function drawBoxes(g, x, y, stats, offset, width, color, st, cls) {
  stats.forEach((s, i) => {
    const cx = x(i + 1 + offset);
    const whisker = make(g, 'line', {x1: cx, y1: y(s[0]), x2: cx, y2: y(s[4]), stroke: st.whisker, 'stroke-width': st.whiskerWidth});
    
    
    const rect = make(g, 'rect', {x: cx - width / 2, y: y(s[3]), width: width, height: Math.max(0.4, y(s[1]) - y(s[3])), fill: color, stroke: st.boxStroke, 'stroke-width': st.boxWidth});
    
    
    const median = make(g, 'line', {x1: cx - width / 2, y1: y(s[2]), x2: cx + width / 2, y2: y(s[2]), stroke: '#333', 'stroke-width': 0.9});
    
    
  });
}
function drawPoints(g, x, y, pts, color, r, stroke, cls) {
  pts.forEach(p => {
    const dot = make(g, 'circle', {cx: x(p[0]), cy: y(p[1]), r: r, fill: color, stroke: stroke || 'none', 'stroke-width': stroke ? 0.55 : 0});
    
    
  });
}
function curve(p) {
  let d = 'M' + p[0][0].toFixed(2) + ',' + p[0][1].toFixed(2);
  for (let i = 0; i < p.length - 1; i++) {
    const a = p[Math.max(0, i - 1)], b = p[i], c = p[i + 1], e = p[Math.min(p.length - 1, i + 2)];
    const c1x = b[0] + (c[0] - a[0]) / 6, c1y = b[1] + (c[1] - a[1]) / 6;
    const c2x = c[0] - (e[0] - b[0]) / 6, c2y = c[1] - (e[1] - b[1]) / 6;
    d += 'C' + c1x.toFixed(2) + ',' + c1y.toFixed(2) + ' ' + c2x.toFixed(2) + ',' + c2y.toFixed(2) + ' ' + c[0].toFixed(2) + ',' + c[1].toFixed(2);
  }
  return d;
}
function drawBand(g, x, y, band, color, opacity, cls) {
  const upper = band.map(b => [x(b[0]), y(b[2])]);
  const lower = band.map(b => [x(b[0]), y(b[1])]).reverse();
  const d = curve(upper) + 'L' + curve(lower).slice(1) + 'Z';
  const area = make(g, 'path', {d: d, fill: color, opacity: opacity, stroke: 'none'});
  
  
}
function drawFit(g, x, y, fit, color, width, dash, cls) {
  const d = curve(fit.map(f => [x(f[0]), y(f[1])]));
  const path = make(g, 'path', {d: d, fill: 'none', stroke: color, 'stroke-width': width, 'stroke-dasharray': dash || 'none', 'stroke-linecap': 'round'});
  
  
}
function panelLetter(g, letter, x, y, size) {
  const t = make(g, 'text', {x: x, y: y, 'font-size': size, fill: '#222'}, letter);
  
  
}
function legendBoxStyle(g, title, classes, colors, lx, titleY, keyW, keyH, firstY, stepY, labelX, titleSize, labelSize) {
  const t = make(g, 'text', {x: lx, y: titleY, 'font-size': titleSize, fill: '#333'}, title);
  
  
  classes.forEach((c, i) => {
    const cy = firstY + i * stepY;
    const stem = make(g, 'line', {x1: lx + 0.5, y1: cy, x2: lx + keyW + 0.5, y2: cy, stroke: '#666', 'stroke-width': 0.7});
    
    
    const key = make(g, 'rect', {x: lx + 0.5, y: cy - keyH / 2, width: keyW, height: keyH, fill: colors[i], stroke: '#666', 'stroke-width': 0.7});
    
    
    const mid = make(g, 'line', {x1: lx + 0.5, y1: cy, x2: lx + keyW + 0.5, y2: cy, stroke: '#444', 'stroke-width': 0.7});
    
    
    const dot = make(g, 'circle', {cx: lx + 0.5 + keyW / 2, cy: cy, r: 1.8, fill: colors[i], stroke: '#333', 'stroke-width': 0.5});
    
    
    const label = make(g, 'text', {x: labelX, y: cy + 2.3, 'font-size': labelSize, fill: '#444'}, c);
    
    
  });
}
function legendBandStyle(g, title, classes, colors, lx, titleY, keyX, keyW, firstY, stepY, labelX, titleSize, labelSize) {
  const t = make(g, 'text', {x: lx, y: titleY, 'font-size': titleSize, fill: '#333'}, title);
  
  
  classes.forEach((c, i) => {
    const cy = firstY + i * stepY;
    const key = make(g, 'rect', {x: keyX, y: cy - stepY / 2, width: keyW, height: stepY, fill: colors[i], opacity: 0.8});
    
    
    const line = make(g, 'line', {x1: keyX + 1, y1: cy, x2: keyX + keyW - 1, y2: cy, stroke: colors[i], 'stroke-width': 1.2});
    
    
    const dot = make(g, 'circle', {cx: keyX + keyW / 2, cy: cy, r: 1.6, fill: colors[i]});
    
    
    const label = make(g, 'text', {x: labelX, y: cy + 2.3, 'font-size': labelSize, fill: '#444'}, c);
    
    
  });
}

// ---------- panel a ----------
(function () {
  const g = panelGroup('panel-a-s-igs-boxplot');
  const x = linear(1, 6, 58.7, 316.7), y = linear(0, 4000, 178.3, 58.3);
  const box = {l: 27.5, t: 5, r: 345, b: 186};
  drawAxes(g, x, y, box, [1,2,3,4,5,6], sixTimes, sTicksAC, {axis: '#555', axisWidth: 1.2, tickSize: 6.4, xTickGap: 9, yTickGap: 3.4, titleSize: 7.8, xTitleX: 188, xTitleY: 203.5, xTitleLen: 64, yTitle: 'S-Igs titers(U/mL)', yTitleX: 7, yTitleY: 95.5});
  const st = {whisker: '#aaa', whiskerWidth: 1.2, boxStroke: '#777', boxWidth: 0.6};
  [aBoxA, aBoxB, aBoxC, aBoxD, aBoxE].forEach((b, i) => drawBoxes(g, x, y, b, [-.3,-.15,0,.15,.3][i], 7.3, boxColors[i], st, fiveClasses[i]));
  [aPointsA, aPointsB, aPointsC, aPointsD, aPointsE].forEach((p, i) => drawPoints(g, x, y, p, boxColors[i], 1.8, '#222', fiveClasses[i]));
  panelLetter(g, 'a', 10, 12.5, 14);
})();

// ---------- panel b ----------
(function () {
  const g = panelGroup('panel-b-n-igs-boxplot');
  const x = linear(1, 6, 410.3, 668.3), y = linear(0, 200, 178.3, 51.7);
  const box = {l: 379.3, t: 5, r: 698, b: 186};
  drawAxes(g, x, y, box, [1,2,3,4,5,6], sixTimes, nTicksBD, {axis: '#555', axisWidth: 1.2, tickSize: 6.4, xTickGap: 9, yTickGap: 3.4, titleSize: 7.8, xTitleX: 539.5, xTitleY: 203.5, xTitleLen: 64, yTitle: 'N-Igs titers(U/mL)', yTitleX: 362, yTitleY: 95.5});
  const st = {whisker: '#aaa', whiskerWidth: 1.2, boxStroke: '#777', boxWidth: 0.6};
  [bBoxA, bBoxB, bBoxC, bBoxD, bBoxE].forEach((b, i) => drawBoxes(g, x, y, b, [-.3,-.15,0,.15,.3][i], 7.3, boxColors[i], st, fiveClasses[i]));
  [bPointsA, bPointsB, bPointsC, bPointsD, bPointsE].forEach((p, i) => drawPoints(g, x, y, p, boxColors[i], 1.8, '#222', fiveClasses[i]));
  panelLetter(g, 'b', 367, 15, 13);
  legendBoxStyle(g, 'KML Class', fiveClasses, boxColors, 711.7, 66, 10, 7.4, 76.7, 12.3, 728, 7.8, 6.2);
})();

// ---------- panel c ----------
(function () {
  const g = panelGroup('panel-c-s-igs-trajectory');
  const x = linear(1, 6, 62.3, 312.7), y = linear(0, 4000, 386, 266);
  const box = {l: 28.3, t: 213.3, r: 348, b: 394};
  drawAxes(g, x, y, box, [1,2,3,4,5,6], sixTimes, sTicksAC, {frame: true, tickSize: 6.4, xTickGap: 8, yTickGap: 3.4, titleSize: 7.8, xTitleX: 188, xTitleY: 411, xTitleLen: 64, yTitle: 'S-Igs titers(U/mL)', yTitleX: 7, yTitleY: 303.7});
  [[cPointsE,4],[cPointsD,3],[cPointsC,2],[cPointsB,1],[cPointsA,0]].forEach(s => drawPoints(g, x, y, s[0], smoothColors[s[1]], 2, null, fiveClasses[s[1]]));
  [cBandA, cBandB, cBandC, cBandD, cBandE].forEach((b, i) => drawBand(g, x, y, b, smoothColors[i], 0.4, fiveClasses[i]));
  const dashes = ['5 2', null, '4 2', null, '5 2 1 2'];
  const widths = [1.2, 1.4, 1.4, 1.7, 1.2];
  [cFitA, cFitB, cFitC, cFitD, cFitE].forEach((f, i) => drawFit(g, x, y, f, smoothColors[i], widths[i], dashes[i], fiveClasses[i]));
  panelLetter(g, 'c', 10.5, 224, 12);
})();

// ---------- panel d ----------
(function () {
  const g = panelGroup('panel-d-n-igs-trajectory');
  const x = linear(1, 6, 413.7, 664.7), y = linear(0, 200, 374.3, 257);
  const box = {l: 379.3, t: 213.3, r: 699, b: 394};
  drawAxes(g, x, y, box, [1,2,3,4,5,6], sixTimes, nTicksBD, {frame: true, tickSize: 6.4, xTickGap: 8, yTickGap: 3.4, titleSize: 7.8, xTitleX: 539.5, xTitleY: 411, xTitleLen: 64, yTitle: 'N-Igs titers(U/mL)', yTitleX: 362, yTitleY: 303.7});
  [[dPointsE,4],[dPointsD,3],[dPointsC,2],[dPointsB,1],[dPointsA,0]].forEach(s => drawPoints(g, x, y, s[0], smoothColors[s[1]], 2, null, fiveClasses[s[1]]));
  [dBandA, dBandB, dBandC, dBandD, dBandE].forEach((b, i) => drawBand(g, x, y, b, smoothColors[i], 0.46, fiveClasses[i]));
  const dashes = ['5 2', null, '5 2', null, '5 2 1 2'];
  [dFitA, dFitB, dFitC, dFitD, dFitE].forEach((f, i) => drawFit(g, x, y, f, smoothColors[i], 1.5, dashes[i], fiveClasses[i]));
  panelLetter(g, 'd', 367, 220, 13);
  legendBandStyle(g, 'KML Class', fiveClasses, smoothColors, 708.7, 283.5, 713, 12.7, 301, 12.1, 730, 8.4, 5.8);
})();

// ---------- panel e ----------
(function () {
  const g = panelGroup('panel-e-s-igs-class-boxplot');
  const x = linear(1, 5, 73, 320.7), y = linear(0, 2500, 598, 441);
  const box = {l: 35.7, t: 432, r: 358, b: 606.7};
  drawAxes(g, x, y, box, [1,2,3,4,5], fiveTimes, sTicksE, {axis: '#444', axisWidth: 1.1, tickSize: 6.6, tickSpacing: 0.5, xTickGap: 8.6, yTickGap: 4.8, titleSize: 8, xTitleX: 197, xTitleY: 622.7, xTitleLen: 79, yTitle: 'S-Igs titers(U/mL)', yTitleX: 10, yTitleY: 519});
  const st = {whisker: '#666', whiskerWidth: 1, boxStroke: '#777', boxWidth: 1};
  [eBoxA, eBoxB, eBoxC].forEach((b, i) => drawBoxes(g, x, y, b, [-.25,0,.25][i], 14.7, threeBoxColors[i], st, threeClasses[i]));
  [ePointsA, ePointsB, ePointsC].forEach((p, i) => drawPoints(g, x, y, p, threeBoxColors[i], 1.8, '#444', threeClasses[i]));
  panelLetter(g, 'e', 0, 441, 12);
})();

// ---------- panel f ----------
(function () {
  const g = panelGroup('panel-f-n-igs-class-boxplot');
  const x = linear(1, 5, 432.7, 666), y = linear(0, 250, 598.3, 436);
  const box = {l: 398.7, t: 432, r: 700.7, b: 606.7};
  drawAxes(g, x, y, box, [1,2,3,4,5], fiveTimes, nTicksFH, {axis: '#222', axisWidth: 1.2, tickSize: 6.6, tickSpacing: 0.4, xTickGap: 8.6, yTickGap: 4.8, titleSize: 8, xTitleX: 550, xTitleY: 622.7, xTitleLen: 74, yTitle: 'N-Igs titers(U/mL)', yTitleX: 377.7, yTitleY: 520});
  const st = {whisker: '#666', whiskerWidth: 1, boxStroke: '#777', boxWidth: 1};
  [fBoxA, fBoxB, fBoxC].forEach((b, i) => drawBoxes(g, x, y, b, [-.24,0,.24][i], 13.3, threeBoxColors[i], st, threeClasses[i]));
  [fPointsA, fPointsB, fPointsC].forEach((p, i) => drawPoints(g, x, y, p, threeBoxColors[i], 1.8, '#444', threeClasses[i]));
  panelLetter(g, 'f', 368, 439, 14);
  legendBoxStyle(g, 'KML Class', threeClasses, threeBoxColors, 715.3, 502.5, 11.6, 6.8, 512.7, 12.5, 734, 8.4, 7);
})();

// ---------- panel g ----------
(function () {
  const g = panelGroup('panel-g-s-igs-class-trajectory');
  const x = linear(1, 6, 69, 323.7), y = linear(0, 2000, 798.3, 654.3);
  const box = {l: 35.3, t: 632.3, r: 358, b: 805.3};
  drawAxes(g, x, y, box, [1,2,3,4,5,6], sixTimes, sTicksG, {frame: true, tickSize: 6.6, tickSpacing: 0.5, xTickGap: 8.8, yTickGap: 4.8, titleSize: 8, xTitleX: 197, xTitleY: 822.7, xTitleLen: 79, yTitle: 'S-Igs titers(U/mL)', yTitleX: 10, yTitleY: 719});
  [gPointsA, gPointsB, gPointsC].forEach((p, i) => drawPoints(g, x, y, p, threeSmoothColors[i], 1.9, null, threeClasses[i]));
  drawBand(g, x, y, gBandA, threeSmoothColors[0], 0.38, 'A');
  drawBand(g, x, y, gBandB, threeSmoothColors[1], 0.38, 'B');
  drawBand(g, x, y, gBandC1, threeSmoothColors[2], 0.36, 'C');
  drawBand(g, x, y, gBandC2, threeSmoothColors[2], 0.36, 'C');
  drawFit(g, x, y, gFitA, threeSmoothColors[0], 1.2, '8 2 2 2', 'A');
  drawFit(g, x, y, gFitB, threeSmoothColors[1], 1.4, null, 'B');
  drawFit(g, x, y, gFitC, threeSmoothColors[2], 1.2, '8 3', 'C');
  panelLetter(g, 'g', 5, 636.5, 12);
})();

// ---------- panel h ----------
(function () {
  const g = panelGroup('panel-h-n-igs-class-trajectory');
  const x = linear(1, 6, 430.7, 669), y = linear(0, 250, 795.3, 635.3);
  const box = {l: 398.7, t: 632.3, r: 701.3, b: 805.3};
  drawAxes(g, x, y, box, [1,2,3,4,5,6], sixTimes, nTicksFH, {frame: true, tickSize: 6.6, tickSpacing: 0.4, xTickGap: 8.8, yTickGap: 4.8, titleSize: 8, xTitleX: 550, xTitleY: 822.7, xTitleLen: 74, yTitle: 'N-Igs titers(U/mL)', yTitleX: 377.7, yTitleY: 719});
  [hPointsA, hPointsB, hPointsC].forEach((p, i) => drawPoints(g, x, y, p, threeSmoothColors[i], 1.9, null, threeClasses[i]));
  [hBandA, hBandB, hBandC].forEach((b, i) => drawBand(g, x, y, b, threeSmoothColors[i], 0.38, threeClasses[i]));
  drawFit(g, x, y, hFitA, threeSmoothColors[0], 1.2, '8 2 2 2', 'A');
  drawFit(g, x, y, hFitB, threeSmoothColors[1], 1.4, null, 'B');
  drawFit(g, x, y, hFitC, threeSmoothColors[2], 1.2, '8 3 2 3', 'C');
  panelLetter(g, 'h', 370.5, 630, 13);
  legendBandStyle(g, 'KML Class', threeClasses, threeSmoothColors, 712.7, 692.2, 716.7, 14.6, 709, 14, 736.7, 8.2, 7);
})();
</script>
</body>
</html>
